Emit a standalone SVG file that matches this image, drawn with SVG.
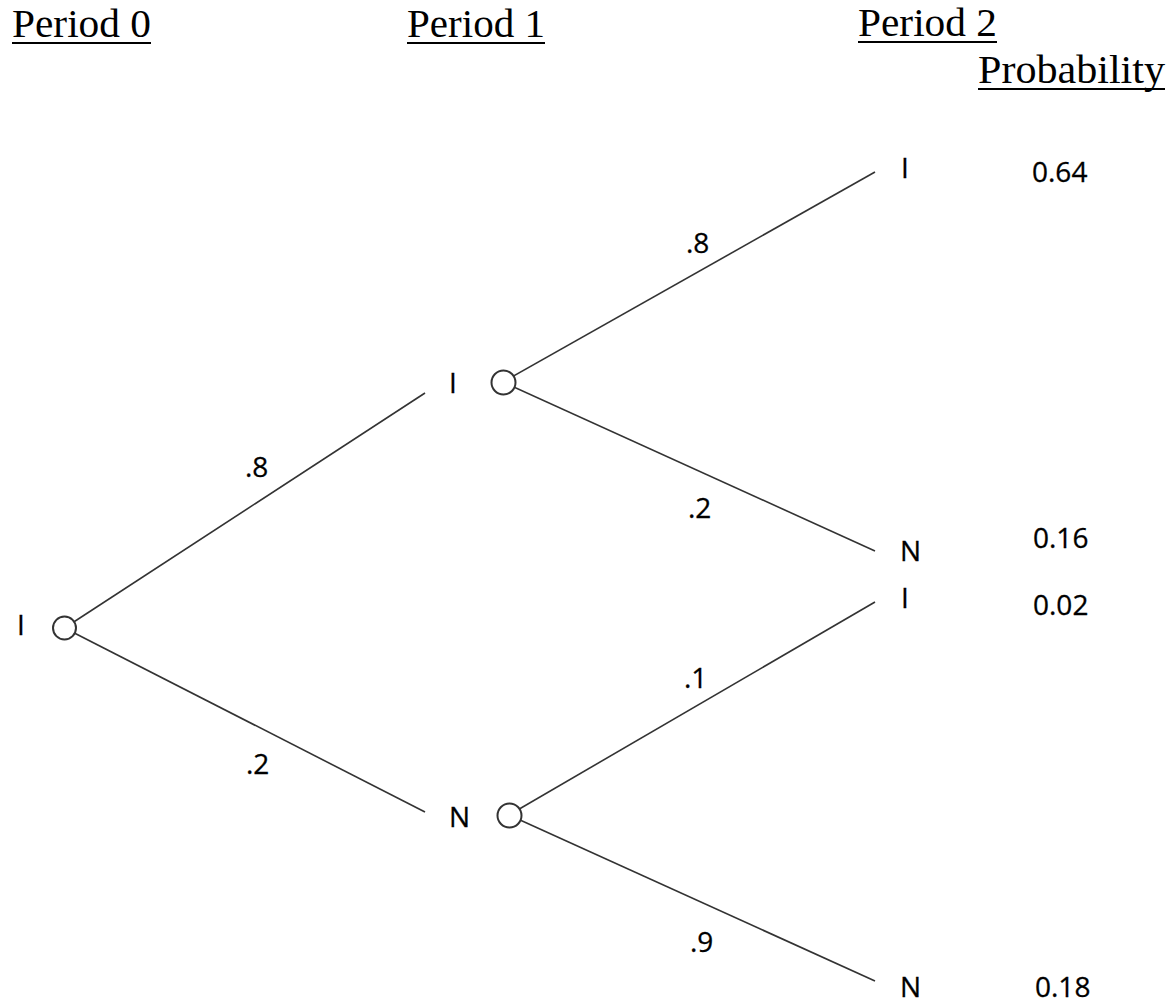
<svg xmlns="http://www.w3.org/2000/svg" width="1170" height="1004" viewBox="0 0 1170 1004">
<style>
.hdr{font-family:"Liberation Serif","Times New Roman",serif;font-size:39px;fill:#000}
.ul{stroke:#000;stroke-width:2}
.lbl{font-family:"Open Sans","Noto Sans",sans-serif;font-size:28px;fill:#000;stroke:#000;stroke-width:0.3}
.edge{stroke:#333;stroke-width:1.6;fill:none}
.node{fill:#fff;stroke:#333;stroke-width:2}
</style>
<rect width="1170" height="1004" fill="#fff"/>
<g id="headers">
<text class="hdr" x="12" y="37" textLength="139" lengthAdjust="spacingAndGlyphs">Period 0</text>
<line class="ul" x1="12" y1="43" x2="151" y2="43"/>
<text class="hdr" x="407" y="37" textLength="138" lengthAdjust="spacingAndGlyphs">Period 1</text>
<line class="ul" x1="407" y1="43" x2="545" y2="43"/>
<text class="hdr" x="858" y="36" textLength="139" lengthAdjust="spacingAndGlyphs">Period 2</text>
<line class="ul" x1="858" y1="42" x2="997" y2="42"/>
<text class="hdr" x="978" y="83" textLength="187" lengthAdjust="spacingAndGlyphs">Probability</text>
<line class="ul" x1="978" y1="89" x2="1165" y2="89"/>
</g>
<g id="connectors">
<line class="edge" x1="64.5" y1="628" x2="425" y2="393"/>
<line class="edge" x1="64.5" y1="628" x2="425" y2="812"/>
<line class="edge" x1="503" y1="382" x2="875" y2="172"/>
<line class="edge" x1="503" y1="382" x2="875" y2="551"/>
<line class="edge" x1="509" y1="815" x2="875" y2="602"/>
<line class="edge" x1="509" y1="815" x2="875" y2="981"/>
<text class="lbl" x="245" y="477">.8</text>
<text class="lbl" x="246" y="774">.2</text>
<text class="lbl" x="686" y="253">.8</text>
<text class="lbl" x="688" y="518">.2</text>
<text class="lbl" x="684" y="688">.1</text>
<text class="lbl" x="690" y="952">.9</text>
</g>
<g id="node-root">
<text class="lbl" x="17" y="635">I</text>
<circle class="node" cx="64.5" cy="628" r="11.5"/>
</g>
<g id="node-p1-I">
<text class="lbl" x="449" y="393">I</text>
<circle class="node" cx="503.5" cy="382.5" r="12"/>
</g>
<g id="node-p1-N">
<text class="lbl" x="449" y="827">N</text>
<circle class="node" cx="509.5" cy="815.5" r="12"/>
</g>
<g id="node-p2-II">
<text class="lbl" x="901" y="178">I</text>
<text class="lbl" x="1032" y="182">0.64</text>
</g>
<g id="node-p2-IN">
<text class="lbl" x="900" y="561">N</text>
<text class="lbl" x="1033" y="548">0.16</text>
</g>
<g id="node-p2-NI">
<text class="lbl" x="901" y="608">I</text>
<text class="lbl" x="1033" y="615">0.02</text>
</g>
<g id="node-p2-NN">
<text class="lbl" x="900" y="997">N</text>
<text class="lbl" x="1035" y="997">0.18</text>
</g>
</svg>
